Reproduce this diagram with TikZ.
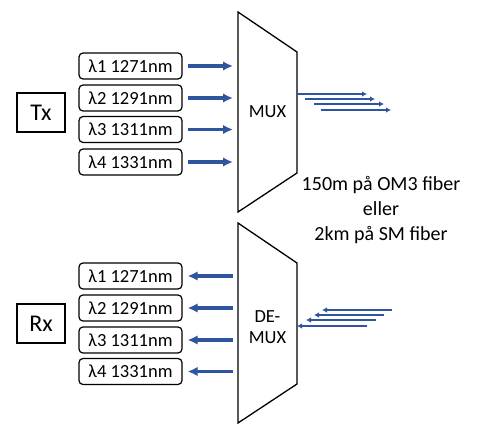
\documentclass[tikz,border=0pt]{standalone}
\usepackage{fontspec}
\setmainfont{Carlito}
\usepackage{tikz}
\usetikzlibrary{arrows.meta, calc, positioning}

\definecolor{fiberblue}{RGB}{47,84,160}

\begin{document}
\begin{tikzpicture}[x=1pt, y=-1pt,
    box/.style={draw, rounded corners=4pt, line width=1.2pt, minimum width=103pt,
        minimum height=26pt, inner sep=0pt, font=\fontsize{18.5}{22}\selectfont},
    endbox/.style={draw, line width=1.2pt, minimum width=48pt, minimum height=39pt,
        font=\fontsize{24}{28}\selectfont},
    sig/.style={fiberblue, line width=3.4pt, -{Latex[length=10pt,width=9.5pt]},
        shorten <=5pt, shorten >=5pt},
    fib/.style={fiberblue, line width=2.2pt, -{Latex[length=5pt,width=5.5pt]}}]
    \useasboundingbox (0,0) rectangle (480,439);

    % Sender: MUX
    \draw[line width=1.3pt] (238,12) -- (297,52) -- (297,173) -- (238,212) -- cycle;
    \coordinate (muxin) at (238,112);
    \coordinate (muxout) at (297,94);
    \node[font=\fontsize{18.5}{22}\selectfont] (mux) at (267.5,112) {MUX};
    \node[endbox] (tx) at (41,112.5) {Tx};
    \foreach \i/\l/\y in {1/1271/66, 2/1291/98, 3/1311/129.5, 4/1331/162} {
        \node[box] (tw\i) at (130.5,\y) {λ\i\ \l nm};
        \draw[sig] (tw\i.east) -- (tw\i.east -| muxin);
    }
    % fiber ut
    \foreach \dx/\dy in {0/0, 8/5, 17/10, 24/16}
        \draw[fib] ($(muxout)+(\dx,\dy)$) -- ++(70,0);

    % Mottager: DE-MUX
    \draw[line width=1.3pt] (238,223) -- (297,263) -- (297,384) -- (238,423) -- cycle;
    \coordinate (demuxin) at (238,323);
    \coordinate (demuxout) at (297,326);
    \node[font=\fontsize{18.5}{21}\selectfont, align=center] (demux) at (267.5,327) {DE-\\MUX};
    \node[endbox] (rx) at (41,323.5) {Rx};
    \foreach \i/\l/\y in {1/1271/276, 2/1291/308, 3/1311/340, 4/1331/371.5} {
        \node[box] (rw\i) at (130.5,\y) {λ\i\ \l nm};
        \draw[sig] (rw\i.east -| demuxin) -- (rw\i.east);
    }
    % fiber inn
    \foreach \dx/\dy in {25/-16, 17/-11, 9/-6, 0/0}
        \draw[fib] ($(demuxout)+(\dx+70,\dy)$) -- ++(-70,0);

    \node[align=center, font=\fontsize{20}{25}\selectfont] (fibtxt) at (381,210)
        {150m på OM3 fiber\\eller\\2km på SM fiber};
\end{tikzpicture}
\end{document}
